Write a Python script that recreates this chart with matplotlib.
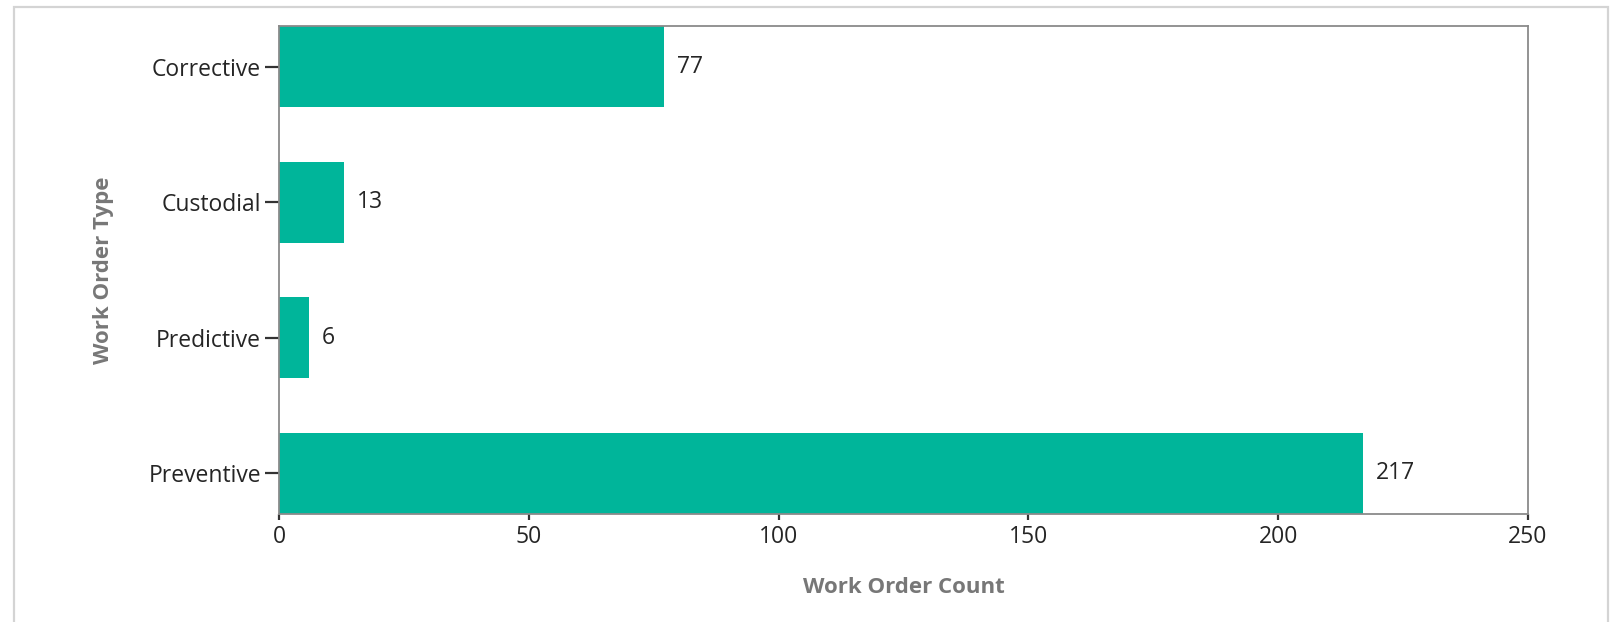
import matplotlib
matplotlib.use("Agg")
import matplotlib.pyplot as plt
from matplotlib.patches import Rectangle

categories = ["Corrective", "Custodial", "Predictive", "Preventive"]
counts = [77, 13, 6, 217]
xticks = [0, 50, 100, 150, 200, 250]

plt.rcParams['font.family'] = ['Open Sans', 'DejaVu Sans']

W, H = 1613, 622
fig = plt.figure(figsize=(W / 100, H / 100), dpi=100)

# outer frame
fig.patches.append(Rectangle((14 / W, -0.05), (1608 - 14) / W, (H - 7) / H + 0.05,
                             transform=fig.transFigure, fill=False,
                             edgecolor="#d4d4d4", linewidth=1.6))

left, right, top, bottom = 279, 1528, 26, 514
ax = fig.add_axes([left / W, 1 - bottom / H, (right - left) / W, (bottom - top) / H])

ypos = list(range(len(categories)))
ax.barh(ypos, counts, height=0.6, color="#00B59A")
ax.set_ylim(3.3, -0.3)
ax.set_xlim(0, 250)
ax.set_yticks(ypos)
ax.set_yticklabels(categories)
ax.set_xticks(xticks)

fs = 16.5
for y, v in zip(ypos, counts):
    ax.annotate(str(v), (v, y), xytext=(9.5, 0), textcoords="offset points",
                va="center", ha="left", fontsize=fs, color="#252525")

for s in ax.spines.values():
    s.set_color("#8a8a8a")
    s.set_linewidth(1.3)

ax.tick_params(axis="y", length=10, width=1.6, color="#333333", labelsize=fs,
               labelcolor="#252525", pad=3)
ax.tick_params(axis="x", length=4, width=1.6, color="#333333", labelsize=fs,
               labelcolor="#252525", pad=4)

ax.set_xlabel("Work Order Count", fontsize=16, fontweight="bold", color="#777777",
              labelpad=20)
ax.set_ylabel("Work Order Type", fontsize=16, fontweight="bold", color="#777777",
              labelpad=25)

fig.savefig("out.png", dpi=100)
